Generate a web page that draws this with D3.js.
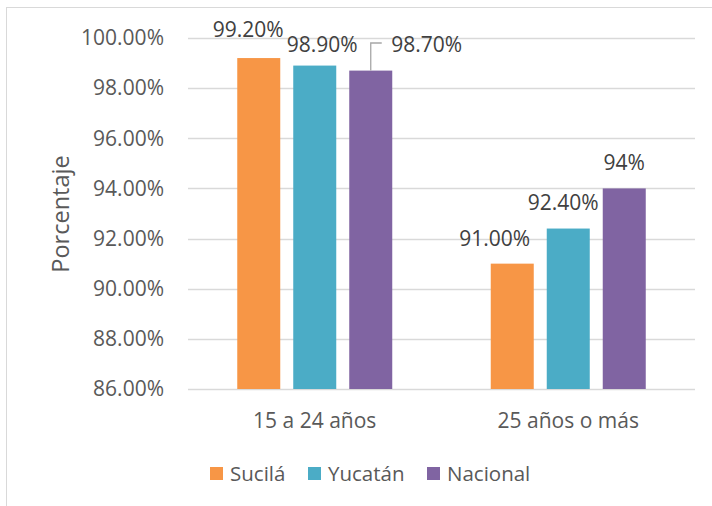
<!DOCTYPE html>
<html><head><meta charset="utf-8">
<script src="https://cdn.jsdelivr.net/npm/d3@7"></script>
<style>body{margin:0;background:#fff}svg{display:block}text{font-family:"Open Sans",sans-serif}</style>
</head><body><svg id="c" width="712" height="506"></svg>
<script>
const categories = ["15 a 24 años", "25 años o más"];
const seriesNames = ["Sucilá", "Yucatán", "Nacional"];
const sucila = [99.2, 91.0];
const yucatan = [98.9, 92.4];
const nacional = [98.7, 94.0];
const labelTexts = [["99.20%", "91.00%"], ["98.90%", "92.40%"], ["98.70%", "94%"]];
const yTicks = [86, 88, 90, 92, 94, 96, 98, 100];
const colors = ["#F79646", "#4BACC6", "#8064A2"];

const values = [sucila, yucatan, nacional];
const svg = d3.select("#c");
// chart border
svg.append("rect").attr("x", 6.5).attr("y", 7.5).attr("width", 720).attr("height", 520)
  .attr("fill", "none").attr("stroke", "#d9d9d9");

const m = {l: 188, r: 695, t: 38, b: 389};
const x0 = d3.scaleBand().domain(categories).range([m.l, m.r]);
const x1 = d3.scaleBand().domain(seriesNames).range([0, 155]).paddingInner(0.232).paddingOuter(0);
const y = d3.scaleLinear().domain([86, 100]).range([m.b, m.t]);

// gridlines
svg.append("g").selectAll("line").data(yTicks).join("line")
  .attr("x1", m.l).attr("x2", m.r).attr("y1", d => Math.round(y(d)) + 0.5).attr("y2", d => Math.round(y(d)) + 0.5)
  .attr("stroke", "#d9d9d9").attr("stroke-width", 1.3);

// y axis labels
const yAxis = d3.axisLeft(y).tickValues(yTicks).tickSize(0).tickPadding(24).tickFormat(d => d.toFixed(2) + "%");
const ga = svg.append("g").attr("transform", `translate(${m.l},0)`).call(yAxis);
ga.select(".domain").remove();
ga.selectAll("text").attr("font-size", 21).attr("fill", "#595959").attr("font-family", "Open Sans");

// bars
const groups = svg.append("g").selectAll("g").data(categories).join("g")
  .attr("transform", c => `translate(${x0(c) + (x0.bandwidth() - 155) / 2},0)`);
groups.selectAll("rect").data((c, ci) => seriesNames.map((s, si) => ({s, si, v: values[si][ci]})))
  .join("rect")
  .attr("x", d => x1(d.s)).attr("width", x1.bandwidth())
  .attr("y", d => y(d.v)).attr("height", d => y(86) - y(d.v))
  .attr("fill", d => colors[d.si]);

// data labels (manually offset as in the reference)
const labelOffsets = [[[-10.5, -21], [-17.5, -17.5]], [[7.5, -14], [-5, -18.5]], [[56, -19], [0, -18.5]]];
categories.forEach((c, ci) => {
  seriesNames.forEach((s, si) => {
    const cx = x0(c) + (x0.bandwidth() - 155) / 2 + x1(s) + x1.bandwidth() / 2;
    const cy = y(values[si][ci]);
    const [dx, dy] = labelOffsets[si][ci];
    svg.append("text").attr("x", cx + dx).attr("y", cy + dy).attr("text-anchor", "middle")
      .attr("font-size", 21).attr("fill", "#404040").text(labelTexts[si][ci]);
    if (si === 2 && ci === 0) {
      svg.append("path").attr("d", `M${cx},${cy} V${cy - 27.6} H${cx + 11}`)
        .attr("fill", "none").attr("stroke", "#a6a6a6").attr("stroke-width", 1.3);
    }
  });
});

// category labels
categories.forEach(c => {
  svg.append("text").attr("x", x0(c) + x0.bandwidth() / 2).attr("y", 428).attr("text-anchor", "middle")
    .attr("font-size", 21).attr("fill", "#595959").text(c);
});

// y title
svg.append("text").attr("transform", "translate(69,214) rotate(-90)").attr("text-anchor", "middle")
  .attr("font-size", 23.5).attr("fill", "#595959").text("Porcentaje");

// legend
const legX = [210, 308, 427];
seriesNames.forEach((s, i) => {
  svg.append("rect").attr("x", legX[i]).attr("y", 467).attr("width", 13).attr("height", 13).attr("fill", colors[i]);
  svg.append("text").attr("x", legX[i] + 20).attr("y", 481).attr("font-size", 20.5).attr("fill", "#595959").text(s);
});
</script></body></html>
